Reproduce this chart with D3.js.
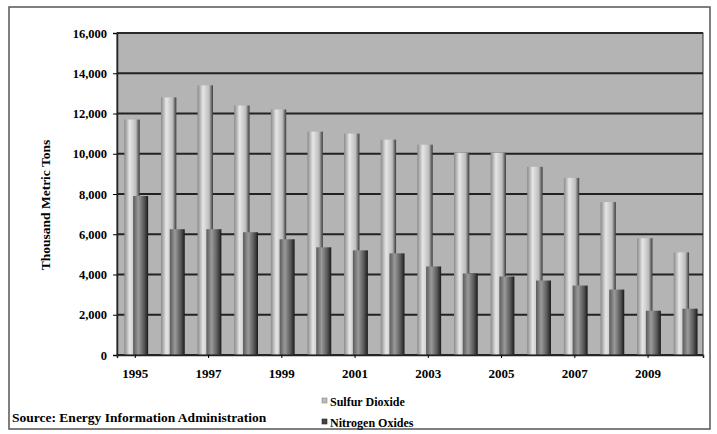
<!DOCTYPE html>
<html><head><meta charset="utf-8">
<script src="https://cdn.jsdelivr.net/npm/d3@7"></script>
<style>html,body{margin:0;padding:0;background:#fff;}svg{display:block;}</style>
</head><body>
<svg id="chart" width="717" height="434"></svg>
<script>
const years = ["1995","1996","1997","1998","1999","2000","2001","2002","2003","2004","2005","2006","2007","2008","2009","2010"];
const tickYears = ["1995","1997","1999","2001","2003","2005","2007","2009"];
const sulfurDioxide = [11700,12800,13400,12400,12200,11100,11000,10700,10450,10050,10050,9350,8800,7600,5800,5100];
const nitrogenOxides = [7900,6250,6250,6100,5750,5350,5200,5050,4400,4050,3900,3700,3450,3250,2200,2300];
const yTicks = [0,2000,4000,6000,8000,10000,12000,14000,16000];
const seriesNames = ["Sulfur Dioxide","Nitrogen Oxides"];

const svg = d3.select("#chart");
const font = "'Liberation Serif','Times New Roman',serif";
const L = 117, R = 703, T = 33, B = 355;

const defs = svg.append("defs");
const g1 = defs.append("linearGradient").attr("id","gSO2");
[[0,"#8a8a8a"],[0.35,"#e6e6e6"],[0.75,"#bdbdbd"],[1,"#3a3a3a"]].forEach(s=>g1.append("stop").attr("offset",s[0]).attr("stop-color",s[1]));
const g2 = defs.append("linearGradient").attr("id","gNOx");
[[0,"#5a5a5a"],[0.35,"#9a9a9a"],[0.75,"#555"],[1,"#1a1a1a"]].forEach(s=>g2.append("stop").attr("offset",s[0]).attr("stop-color",s[1]));

// outer frame
svg.append("rect").attr("x",9).attr("y",7).attr("width",701).attr("height",422)
  .attr("fill","none").attr("stroke","#555").attr("stroke-width",1.5);

const x = d3.scaleBand().domain(years).range([L,R]).padding(0);
const y = d3.scaleLinear().domain([0,16000]).range([B,T]);

// plot background
svg.append("rect").attr("x",L).attr("y",T).attr("width",R-L).attr("height",B-T).attr("fill","#b4b4b4");

// gridlines
svg.append("g").selectAll("line").data(yTicks).join("line")
  .attr("x1",L).attr("x2",R).attr("y1",d=>y(d)).attr("y2",d=>y(d))
  .attr("stroke","#222").attr("stroke-width",1.8);

const bw = x.bandwidth();
// SO2 bars
svg.append("g").selectAll("rect").data(years).join("rect")
  .attr("x",d=>x(d)+bw*0.2).attr("width",bw*0.42)
  .attr("y",(d,i)=>y(sulfurDioxide[i])).attr("height",(d,i)=>B-y(sulfurDioxide[i]))
  .attr("fill","url(#gSO2)");
// NOx bars
svg.append("g").selectAll("rect").data(years).join("rect")
  .attr("x",d=>x(d)+bw*0.44).attr("width",bw*0.41)
  .attr("y",(d,i)=>y(nitrogenOxides[i])).attr("height",(d,i)=>B-y(nitrogenOxides[i]))
  .attr("fill","url(#gNOx)");

// plot border
svg.append("rect").attr("x",L).attr("y",T).attr("width",R-L).attr("height",B-T)
  .attr("fill","none").attr("stroke","#333").attr("stroke-width",1);

// y axis
const yAxis = svg.append("g").attr("transform",`translate(${L},0)`)
  .call(d3.axisLeft(y).tickValues(yTicks).tickFormat(d3.format(",")).tickSize(4).tickPadding(6));
yAxis.select(".domain").attr("stroke","#222").attr("stroke-width",1.5);
yAxis.selectAll("text").attr("font-family",font).attr("font-weight","bold").attr("font-size","12.5px").attr("fill","#000");

// x axis
const xAxis = svg.append("g").attr("transform",`translate(0,${B})`)
  .call(d3.axisBottom(x).tickValues(tickYears).tickSize(3).tickPadding(11));
xAxis.select(".domain").attr("stroke","#222").attr("stroke-width",1.5);
xAxis.selectAll("text").attr("font-family",font).attr("font-weight","bold").attr("font-size","13px").attr("fill","#000");

// y title
svg.append("text").attr("transform","translate(50,205) rotate(-90)")
  .attr("text-anchor","middle").attr("font-family",font).attr("font-weight","bold")
  .attr("font-size","13.5px").attr("fill","#000").text("Thousand Metric Tons");

// legend
const lg = svg.append("g");
seriesNames.forEach((n,i)=>{
  const yy = 403 + i*21;
  lg.append("rect").attr("x",322).attr("y",yy-5).attr("width",5).attr("height",5)
    .attr("fill",i===0?"#bbb":"#444").attr("stroke",i===0?"#888":"#222").attr("stroke-width",0.6);
  lg.append("text").attr("x",330).attr("y",yy+3).attr("font-family",font).attr("font-weight","bold")
    .attr("font-size","12px").attr("fill","#000").text(n);
});

// source
svg.append("text").attr("x",12).attr("y",422).attr("font-family",font).attr("font-weight","bold")
  .attr("font-size","13.5px").attr("fill","#000").text("Source: Energy Information Administration");
</script>
</body></html>
